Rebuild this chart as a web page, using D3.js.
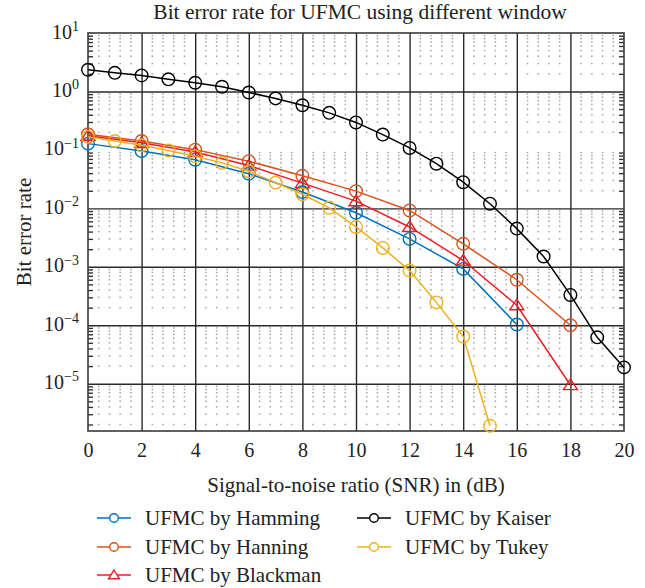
<!DOCTYPE html>
<html>
<head>
<meta charset="utf-8">
<script src="https://cdn.jsdelivr.net/npm/d3@7"></script>
<style>
  body { margin: 0; background: #fff; }
  svg { font-family: "Liberation Serif", "Times New Roman", serif; }
</style>
</head>
<body>
<div id="chart"></div>
<script>
// SNR values (dB)
var kaiserSnr = [0, 1, 2, 3, 4, 5, 6, 7, 8, 9, 10, 11, 12, 13, 14, 15, 16, 17, 18, 19, 20];
var tukeySnr = [0, 1, 2, 3, 4, 5, 6, 7, 8, 9, 10, 11, 12, 13, 14, 15];
var evenSnr = [0, 2, 4, 6, 8, 10, 12, 14, 16, 18];
var hammingSnr = [0, 2, 4, 6, 8, 10, 12, 14, 16];

// bit error rates
var hammingBer = [0.128, 0.096, 0.068, 0.039, 0.019, 0.0084, 0.003, 0.00092, 1.03e-4];
var hanningBer = [0.185, 0.142, 0.101, 0.064, 0.036, 0.0197, 0.0092, 0.00247, 6.0e-4, 1.0e-4];
var blackmanBer = [0.175, 0.132, 0.092, 0.054, 0.027, 0.0133, 0.0048, 0.00128, 2.2e-4, 9.5e-6];
var kaiserBer = [2.35, 2.08, 1.88, 1.61, 1.41, 1.2, 0.96, 0.76, 0.58, 0.43, 0.295, 0.183, 0.108,
                 0.058, 0.028, 0.012, 0.0045, 0.0015, 3.3e-4, 6.2e-5, 1.9e-5];
var tukeyBer = [0.167, 0.142, 0.12, 0.098, 0.078, 0.06, 0.043, 0.0275, 0.0174, 0.0102, 0.0048,
                0.0021, 8.6e-4, 2.46e-4, 6.4e-5, 1.9e-6];

var seriesNames = ["UFMC by Hamming", "UFMC by Hanning", "UFMC by Blackman", "UFMC by Kaiser", "UFMC by Tukey"];
var xTicks = [0, 2, 4, 6, 8, 10, 12, 14, 16, 18, 20];
var yTickExp = [1, 0, -1, -2, -3, -4, -5];

var titleText = "Bit error rate for UFMC using different window";
var xLabel = "Signal-to-noise ratio (SNR) in (dB)";
var yLabel = "Bit error rate";

var series = [
  {name: seriesNames[0], x: hammingSnr, y: hammingBer, color: "#0072bd", marker: "circle"},
  {name: seriesNames[1], x: evenSnr, y: hanningBer, color: "#d95319", marker: "circle"},
  {name: seriesNames[2], x: evenSnr, y: blackmanBer, color: "#ee1c25", marker: "triangle"},
  {name: seriesNames[3], x: kaiserSnr, y: kaiserBer, color: "#000000", marker: "circle"},
  {name: seriesNames[4], x: tukeySnr, y: tukeyBer, color: "#edb120", marker: "circle"}
];

var W = 645, H = 588;
var margin = {top: 33, right: 21, bottom: 157, left: 88},
    width = W - margin.left - margin.right,
    height = H - margin.top - margin.bottom;

var svg = d3.select("#chart").append("svg")
  .attr("width", W)
  .attr("height", H);

var g = svg.append("g")
  .attr("transform", "translate(" + margin.left + "," + margin.top + ")");

var xScale = d3.scaleLinear().domain([0, 20]).range([0, width]);
var yScale = d3.scaleLog().domain([1.55e-6, 10]).range([height, 0]);

// minor positions
var xMinor = [];
for (var i = 0; i <= 50; i++) { if (i % 5 !== 0) xMinor.push(i * 0.4); }
var yMinor = [];
for (var e = -6; e <= 0; e++) {
  for (var m = 2; m <= 9; m++) {
    var v = m * Math.pow(10, e);
    if (v >= yScale.domain()[0] && v <= yScale.domain()[1]) yMinor.push(v);
  }
}

// dotted minor grid (shows up as dots at the crossings)
var dots = g.append("g").attr("class", "minor-grid");
yMinor.forEach(function(yv) {
  xMinor.forEach(function(xv) {
    dots.append("rect")
      .attr("x", xScale(xv) - 0.75)
      .attr("y", yScale(yv) - 0.75)
      .attr("width", 1.5)
      .attr("height", 1.5)
      .attr("fill", "#a3a3a3");
  });
});

// major grid
var gridColor = "#2b2b2b";
g.append("g")
  .attr("class", "grid-x")
  .attr("transform", "translate(0," + height + ")")
  .call(d3.axisBottom(xScale).tickValues(xTicks.slice(1, -1)).tickSize(-height).tickFormat(""))
  .call(function(s) {
    s.select(".domain").remove();
    s.selectAll("line").attr("stroke", gridColor).attr("stroke-width", 1.4);
  });

g.append("g")
  .attr("class", "grid-y")
  .call(d3.axisLeft(yScale)
    .tickValues(yTickExp.filter(function(k) { return k !== 1 && k !== -1; }).map(function(k) { return Math.pow(10, k); }))
    .tickSize(-width).tickFormat(""))
  .call(function(s) {
    s.select(".domain").remove();
    s.selectAll("line").attr("stroke", gridColor).attr("stroke-width", 1.4);
  });

// minor y ticks, both sides
g.append("g")
  .call(d3.axisLeft(yScale).tickValues(yMinor).tickSize(-5).tickFormat(""))
  .call(function(s) {
    s.select(".domain").remove();
    s.selectAll("line").attr("stroke", "#333").attr("stroke-width", 1.4);
  });
g.append("g")
  .attr("transform", "translate(" + width + ",0)")
  .call(d3.axisRight(yScale).tickValues(yMinor).tickSize(-5).tickFormat(""))
  .call(function(s) {
    s.select(".domain").remove();
    s.selectAll("line").attr("stroke", "#333").attr("stroke-width", 1.4);
  });

// x axis labels
var xAxis = g.append("g")
  .attr("class", "axis--x")
  .attr("transform", "translate(0," + height + ")")
  .call(d3.axisBottom(xScale).tickValues(xTicks).tickSize(0).tickPadding(12).tickFormat(d3.format("d")));
xAxis.select(".domain").remove();
xAxis.selectAll("text")
  .attr("font-family", "Liberation Serif, serif")
  .attr("font-size", 20)
  .attr("fill", "#222");

// y axis labels with superscript exponents
var yAxis = g.append("g")
  .attr("class", "axis--y")
  .call(d3.axisLeft(yScale)
    .tickValues(yTickExp.map(function(k) { return Math.pow(10, k); }))
    .tickSize(0).tickPadding(9).tickFormat(""));
yAxis.select(".domain").remove();
yAxis.selectAll(".tick text")
  .attr("font-family", "Liberation Serif, serif")
  .attr("font-size", 20)
  .attr("fill", "#222")
  .attr("dy", "0.25em")
  .each(function(d) {
    var t = d3.select(this);
    var k = Math.round(Math.log10(d));
    t.append("tspan").text("10");
    t.append("tspan")
      .attr("font-size", 14)
      .attr("dy", "-0.55em")
      .text(k < 0 ? "\u2212" + (-k) : String(k));
  });

// box
g.append("rect")
  .attr("width", width)
  .attr("height", height)
  .attr("fill", "none")
  .attr("stroke", "#3a3a3a")
  .attr("stroke-width", 1.6);

// lines and markers
var line = d3.line()
  .x(function(d) { return xScale(d[0]); })
  .y(function(d) { return yScale(d[1]); });

var triPath = "M0,-6L7,4.6L-7,4.6Z";
var triSmall = "M0,-5L5.5,3.8L-5.5,3.8Z";

series.forEach(function(s) {
  var pts = s.x.map(function(xv, i) { return [xv, s.y[i]]; });
  var sg = g.append("g").attr("class", "series");
  sg.append("path")
    .attr("d", line(pts))
    .attr("fill", "none")
    .attr("stroke", s.color)
    .attr("stroke-width", 1.5);
  pts.forEach(function(p) {
    if (s.marker === "circle") {
      sg.append("circle")
        .attr("cx", xScale(p[0]))
        .attr("cy", yScale(p[1]))
        .attr("r", 6.3)
        .attr("fill", "none")
        .attr("stroke", s.color)
        .attr("stroke-width", 1.4);
    } else {
      sg.append("path")
        .attr("d", triPath)
        .attr("transform", "translate(" + xScale(p[0]) + "," + yScale(p[1]) + ")")
        .attr("fill", "none")
        .attr("stroke", s.color)
        .attr("stroke-width", 1.4);
    }
  });
});

// title and axis titles
svg.append("text")
  .attr("x", margin.left + width / 2 + 4)
  .attr("y", 19)
  .attr("text-anchor", "middle")
  .attr("font-size", 21.5)
  .attr("fill", "#222")
  .text(titleText);

svg.append("text")
  .attr("x", margin.left + width / 2)
  .attr("y", 492)
  .attr("text-anchor", "middle")
  .attr("font-size", 21)
  .attr("fill", "#222")
  .text(xLabel);

svg.append("text")
  .attr("transform", "translate(31," + (margin.top + height / 2) + ")rotate(-90)")
  .attr("text-anchor", "middle")
  .attr("font-size", 21)
  .attr("fill", "#222")
  .text(yLabel);

// legend, two columns
var legendPos = [[97, 518], [97, 547], [97, 575], [357, 518], [357, 547]];
var legend = svg.append("g").attr("class", "legend");
series.forEach(function(s, i) {
  var lx = legendPos[i][0], ly = legendPos[i][1];
  var item = legend.append("g").attr("transform", "translate(" + lx + "," + ly + ")");
  item.append("line")
    .attr("x1", 0).attr("x2", 34)
    .attr("stroke", s.color)
    .attr("stroke-width", 1.5);
  if (s.marker === "circle") {
    item.append("circle")
      .attr("cx", 17).attr("r", 4.3)
      .attr("fill", "#fff")
      .attr("stroke", s.color)
      .attr("stroke-width", 1.4);
  } else {
    item.append("path")
      .attr("d", triSmall)
      .attr("transform", "translate(17,0)")
      .attr("fill", "#fff")
      .attr("stroke", s.color)
      .attr("stroke-width", 1.4);
  }
  item.append("text")
    .attr("x", 48)
    .attr("dy", "0.33em")
    .attr("font-size", 21)
    .attr("fill", "#222")
    .text(s.name);
});
</script>
</body>
</html>
